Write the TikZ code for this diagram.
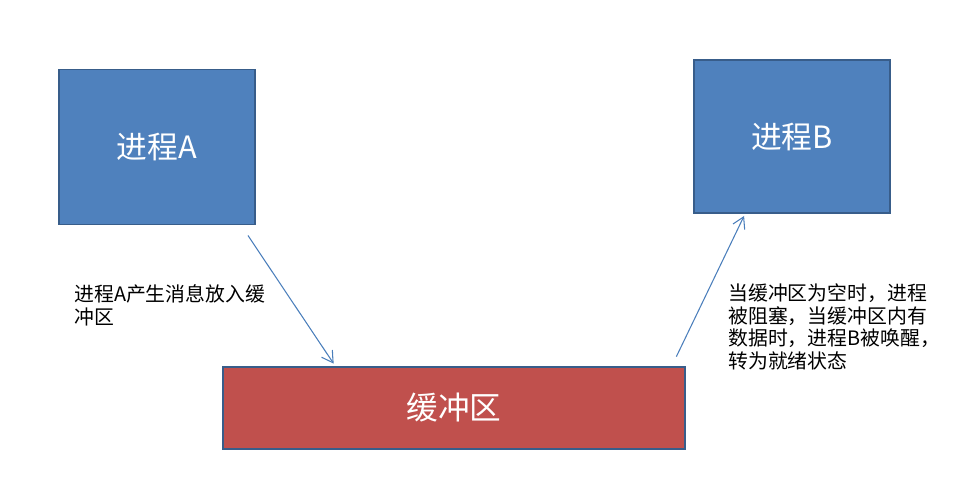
\documentclass[tikz,border=0pt]{standalone}
\usepackage{fontspec}
\setmainfont{Noto Sans CJK SC}
\usepackage{xcolor}
\usetikzlibrary{arrows.meta,positioning,calc}

\definecolor{procblue}{HTML}{4F81BD}
\definecolor{edgeblue}{HTML}{385D8A}
\definecolor{bufred}{HTML}{C0504D}
\definecolor{arrblue}{HTML}{4A7EBB}

\begin{document}
\begin{tikzpicture}[x=0.02cm, y=-0.02cm,
    proc/.style={draw=edgeblue, line width=1.1pt, fill=procblue, text=white,
      minimum width=3.92cm, minimum height=3.1cm, font=\fontsize{17.5}{20}\selectfont},
    buf/.style={draw=edgeblue, line width=1.6pt, fill=bufred, text=white,
      minimum width=9.24cm, minimum height=1.64cm, font=\fontsize{18}{21}\selectfont},
    arr/.style={-{Straight Barb[length=2.2mm, width=2.6mm]}, draw=arrblue, line width=0.6pt},
    lbl/.style={align=left, anchor=north west, inner sep=0pt, font=\fontsize{11.3}{13}\selectfont}
  ]
    \useasboundingbox (0,0) rectangle (966,478);

    % Processes and buffer
    \node[proc] (procA) at (157,147) {进程A};
    \node[proc, minimum height=3.06cm] (procB) at (792,136.5) {进程B};
    \node[buf] (buffer) at (454,408) {缓冲区};

    % Arrow ends
    \coordinate (aOut) at ([shift={(-8,10)}]procA.south east);
    \coordinate (aIn)  at ([shift={(112,-2)}]buffer.north west);
    \coordinate (bOut) at ([shift={(-10,-9)}]buffer.north east);
    \coordinate (bIn)  at ([shift={(51,2)}]procB.south west);

    % Producer puts message into buffer
    \draw[arr] (aOut) -- (aIn);
    \node[lbl] (noteA) at (74,284) {进程A产生消息放入缓\\冲区};

    % Buffer wakes consumer
    \draw[arr] (bOut) -- (bIn);
    \node[lbl] (noteB) at (728,283) {当缓冲区为空时，进程\\被阻塞，当缓冲区内有\\数据时，进程B被唤醒，\\转为就绪状态};
  \end{tikzpicture}
\end{document}
